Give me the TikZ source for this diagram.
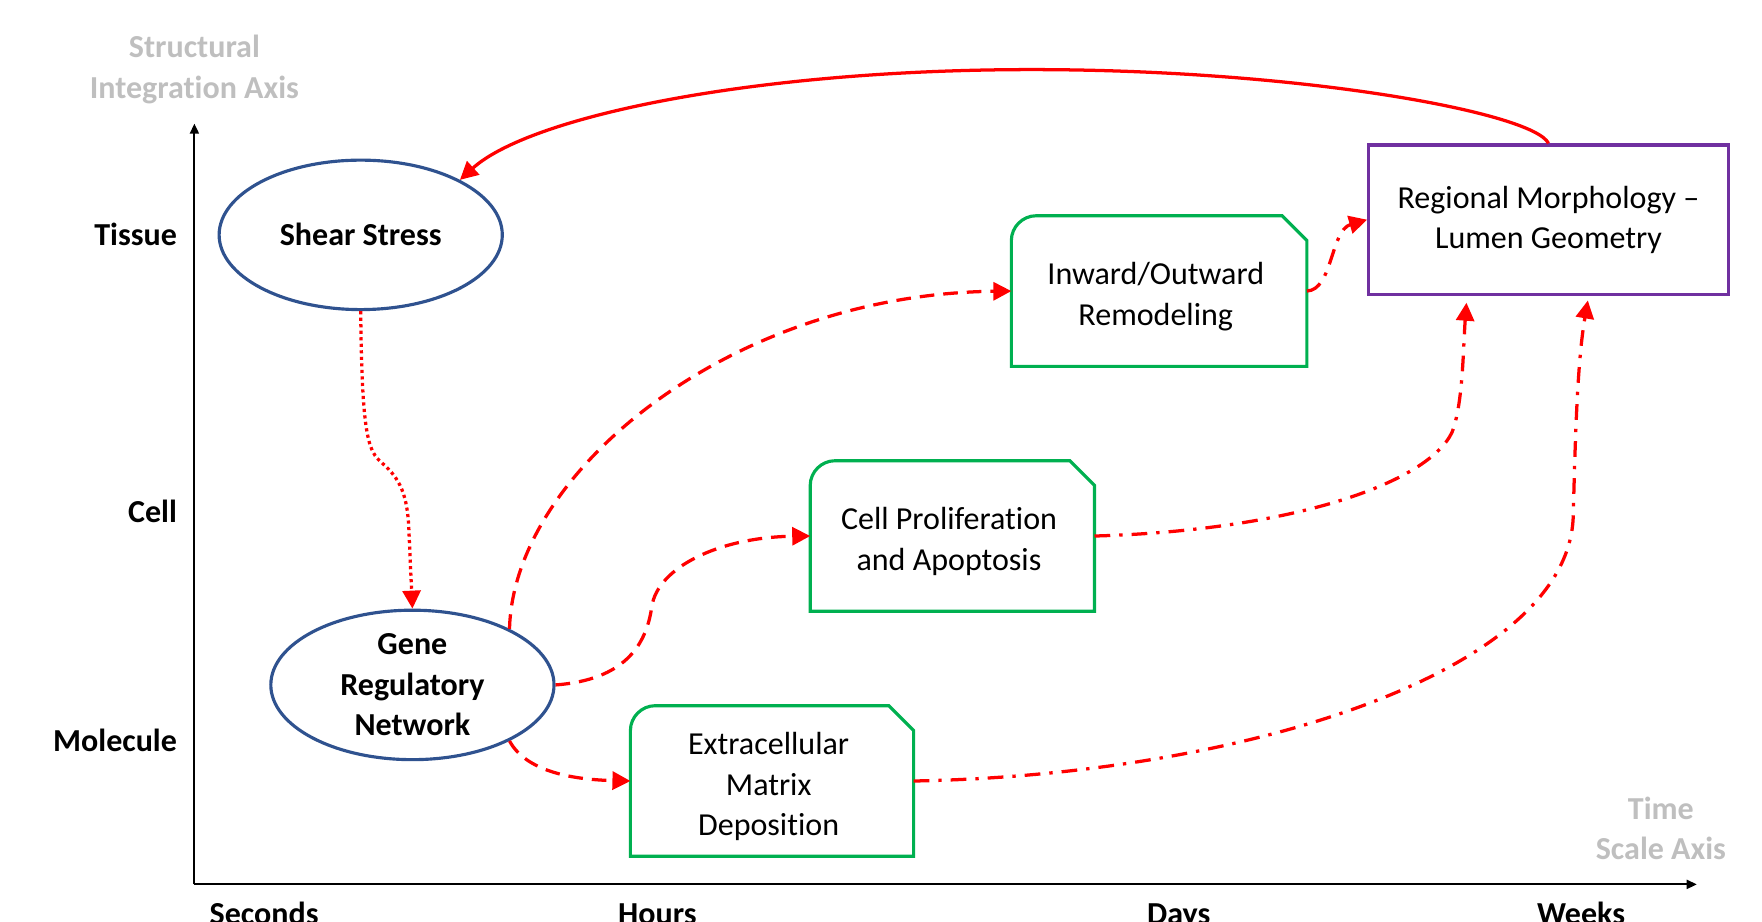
\documentclass[tikz,border=0pt]{standalone}
\usepackage{fontspec}
\setmainfont{Carlito}[Ligatures=NoCommon]
\usetikzlibrary{arrows.meta,shapes.geometric,calc}
\definecolor{ellblue}{HTML}{2F528F}
\definecolor{boxgreen}{HTML}{00B050}
\definecolor{boxpurple}{HTML}{7030A0}
\definecolor{axisgray}{HTML}{BFBFBF}
\definecolor{linkred}{HTML}{FF0000}
\newcommand\snipbox[1]{%
  \draw[boxgreen,line width=2.8pt,line join=miter]
  (#1.south west) -- ($(#1.north west)+(0,22)$)
  .. controls ($(#1.north west)+(0,10)$) and ($(#1.north west)+(10,0)$) .. ($(#1.north west)+(22,0)$)
  -- ($(#1.north east)+(-22,0)$) -- ($(#1.north east)+(0,22)$) -- (#1.south east) -- cycle;}
\begin{document}
\begin{tikzpicture}[x=1pt,y=-1pt,
  txt/.style={font=\fontsize{28.5}{36}\selectfont, align=center},
  btxt/.style={font=\bfseries\fontsize{28.5}{36}\selectfont, align=center},
  ell/.style={ellipse, draw=ellblue, line width=2.8pt, minimum width=252pt, minimum height=133pt, inner sep=0pt, btxt},
  gbox/.style={rectangle, minimum height=134pt, inner sep=0pt, outer sep=0pt},
  pbox/.style={rectangle, draw=boxpurple, line width=2.8pt, minimum width=320pt, minimum height=133pt, inner sep=0pt, txt},
  axis/.style={line width=1.8pt, -{Triangle[length=9pt,width=8pt]}},
  graylab/.style={btxt, text=axisgray},
  lev/.style={btxt, anchor=east},
  tim/.style={btxt, anchor=base},
  link/.style={draw=linkred, line width=2.9pt, -{Triangle[length=16pt,width=16pt]}},
  dashlink/.style={link, dash pattern=on 13pt off 8pt},
  dotlink/.style={link, dash pattern=on 2.8pt off 3pt},
  ddlink/.style={link, dash pattern=on 14pt off 8pt on 3pt off 8pt}
]
\useasboundingbox (0,0) rectangle (1568,820);
\clip (0,0) rectangle (1568,820);

% axes
\coordinate (origin) at (173,787);
\coordinate (ytop) at (173,110);
\coordinate (xend) at (1510,787);
\draw[axis] (origin) -- (ytop);
\draw[axis] (origin) -- (xend);

\node[graylab] (yax) at (173,62) {Structural\\Integration Axis};
\node[graylab] (xax) at (1478,737) {Time\\Scale Axis};

\node[lev] (ltis) at (161,209) {Tissue};
\node[lev] (lcel) at (161,455) {Cell};
\node[lev] (lmol) at (161,659) {Molecule};

\node[tim] (tsec) at (235,823) {Seconds};
\node[tim] (thou) at (585,823) {Hours};
\node[tim] (tday) at (1049,823) {Days};
\node[tim] (twee) at (1407,823) {Weeks};

% nodes
\node[ell] (ss) at (321,209) {Shear Stress};
\node[ell] (grn) at (367,609.5) {Gene\\Regulatory\\Network};

\node[gbox, minimum width=263pt] (inw) at (1031.5,259) {};
\node[gbox, minimum width=253pt] (cp) at (847.5,477) {};
\node[gbox, minimum width=252pt] (ecm) at (687,695) {};
\snipbox{inw}
\snipbox{cp}
\snipbox{ecm}
\node[txt] (inwt) at ([xshift=-3pt,yshift=-5pt]inw.center) {Inward/Outward\\Remodeling};
\node[txt] (cpt) at ([xshift=-3pt,yshift=-5pt]cp.center) {Cell Proliferation\\and Apoptosis};
\node[txt] (ecmt) at ([xshift=-3pt,yshift=-5pt]ecm.center) {Extracellular\\Matrix\\Deposition};

\node[pbox] (rm) at (1378,195.5) {Regional Morphology --\\Lumen Geometry};

\coordinate (rmA) at ([xshift=-73pt,yshift=-6pt]rm.south);
\coordinate (rmB) at ([xshift=35pt,yshift=-4pt]rm.south);

% connectors
\draw[link] (rm.north) .. controls (1365,100) and (1150,60) .. (900,62)
  .. controls (660,64) and (470,105) .. (ss.29);

\draw[dotlink] (ss.south) .. controls (322,390) and (328,402) .. (340,412)
  .. controls (356,426) and (363,440) .. (364,475) -- (grn.north);

\draw[dashlink] (grn.30) .. controls (457,420) and (650,262) .. (inw.west);

\draw[dashlink] (grn.east) .. controls (555,605) and (575,575) .. (580,540)
  .. controls (585,505) and (640,478) .. (cp.west);

\draw[dashlink] (grn.-30) .. controls (470,690) and (520,694) .. (ecm.west);

\draw[ddlink] (inw.east) .. controls (1186,258) and (1184,205) .. (rm.west);

\draw[ddlink] (cp.east) .. controls (1150,472) and (1270,430) .. (1292,385)
  .. controls (1302,360) and (1302,310) .. (rmA);

\draw[ddlink] (ecm.east) .. controls (1100,690) and (1395,600) .. (1400,460)
  .. controls (1402,380) and (1404,320) .. (rmB);
\end{tikzpicture}
\end{document}
